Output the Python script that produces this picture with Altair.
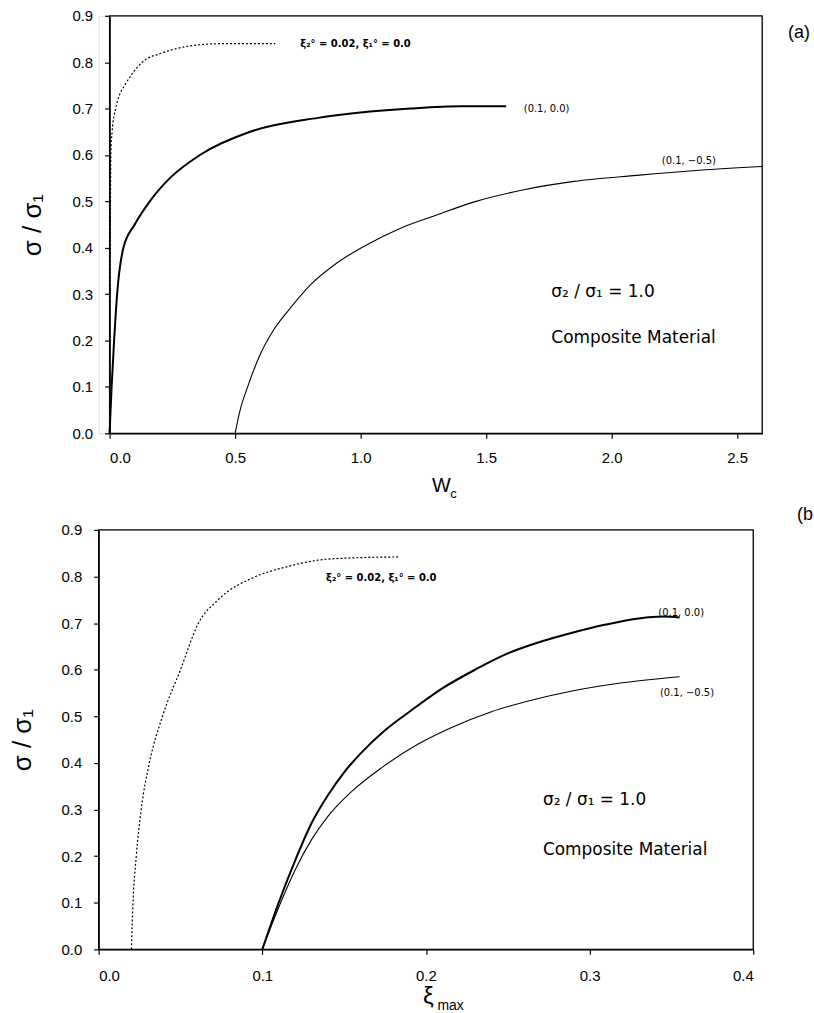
import altair as alt
import pandas as pd

# ---------------- Panel (a): sigma/sigma1 vs W_c ----------------
a_dot_x = [0.0, 0.001, 0.003, 0.005, 0.01, 0.024, 0.04, 0.06, 0.09, 0.13, 0.21, 0.32, 0.45, 0.55, 0.66]
a_dot_y = [0.0, 0.2, 0.45, 0.6, 0.65, 0.7, 0.73, 0.75, 0.775, 0.8, 0.82, 0.835, 0.84, 0.84, 0.84]

a_thick_x = [0.0, 0.008, 0.018, 0.03, 0.055, 0.1, 0.16, 0.24, 0.36, 0.56, 0.83, 1.2, 1.4, 1.58]
a_thick_y = [0.0, 0.1, 0.2, 0.3, 0.4, 0.45, 0.5, 0.55, 0.6, 0.65, 0.68, 0.7, 0.705, 0.705]

a_thin_x = [0.5, 0.52, 0.55, 0.6, 0.65, 0.72, 0.8, 0.9, 1.02, 1.15, 1.3, 1.46, 1.65, 1.85, 2.1, 2.35, 2.6]
a_thin_y = [0.0, 0.05, 0.1, 0.17, 0.22, 0.27, 0.32, 0.365, 0.405, 0.44, 0.47, 0.5, 0.525, 0.543, 0.556, 0.567, 0.575]

a_x_domain = [0.0, 2.6]
a_x_ticks = [0.0, 0.5, 1.0, 1.5, 2.0, 2.5]

# ---------------- Panel (b): sigma/sigma1 vs xi_max ----------------
b_dot_x = [0.02, 0.021, 0.023, 0.026, 0.031, 0.039, 0.05, 0.061, 0.073, 0.096, 0.114, 0.134, 0.155, 0.183]
b_dot_y = [0.0, 0.1, 0.2, 0.3, 0.4, 0.5, 0.6, 0.7, 0.75, 0.8, 0.82, 0.835, 0.84, 0.842]

b_thick_x = [0.1, 0.11, 0.12, 0.13, 0.14, 0.15, 0.16, 0.175, 0.19, 0.21, 0.23, 0.25, 0.27, 0.29, 0.31, 0.33, 0.345, 0.355]
b_thick_y = [0.0, 0.1, 0.19, 0.27, 0.33, 0.38, 0.42, 0.47, 0.51, 0.56, 0.6, 0.635, 0.66, 0.68, 0.697, 0.71, 0.714, 0.712]

b_thin_x = [0.1, 0.11, 0.12, 0.13, 0.14, 0.155, 0.173, 0.195, 0.215, 0.24, 0.265, 0.29, 0.32, 0.355]
b_thin_y = [0.0, 0.09, 0.17, 0.235, 0.285, 0.34, 0.39, 0.44, 0.475, 0.51, 0.535, 0.555, 0.572, 0.585]

b_x_domain = [0.0, 0.4]
b_x_ticks = [0.0, 0.1, 0.2, 0.3, 0.4]

y_domain = [0.0, 0.9]
y_ticks = [0.0, 0.1, 0.2, 0.3, 0.4, 0.5, 0.6, 0.7, 0.8, 0.9]

# annotation texts (label, x, y in data units)
a_labels = ["ξ₂° = 0.02,  ξ₁° = 0.0", "(0.1, 0.0)", "(0.1, −0.5)"]
a_label_x = [0.76, 1.65, 2.2]
a_label_y = [0.839, 0.70, 0.588]
b_labels = ["ξ₂° = 0.02,  ξ₁° = 0.0", "(0.1, 0.0)", "(0.1, −0.5)"]
b_label_x = [0.139, 0.342, 0.343]
b_label_y = [0.797, 0.722, 0.55]

note_lines = ["σ₂ / σ₁ = 1.0", "Composite Material"]
a_note_x = [1.76, 1.76]
a_note_y = [0.305, 0.206]
b_note_x = [0.2715, 0.2715]
b_note_y = [0.321, 0.214]

FONT = "Liberation Sans"
TFONT = "DejaVu Sans"
AX = dict(domainColor="black", tickColor="black", labelColor="black",
          domainWidth=1.3, tickWidth=1.2, grid=False)


def df_line(xs, ys):
    return pd.DataFrame({"x": xs, "y": ys, "i": list(range(len(xs)))})


def make_panel(curves, xdom, xticks, w, h, shift, labels, lx, ly, nx, ny, tag, tag_x, tag_y,
               main_title, sub_title, main_x, main_y, main_size, sub_x, sub_y, sub_size, xlab_pad):
    gw = w + shift
    xscale = alt.Scale(domain=xdom, nice=False, zero=False, range=[shift, gw])
    yscale = alt.Scale(domain=y_domain, nice=False)
    xaxis = alt.Axis(values=xticks, format=".1f", title=None,
                     tickSize=5, labelFontSize=15, labelPadding=xlab_pad, labelFont=FONT, **AX)
    yaxis = alt.Axis(values=y_ticks, format=".1f", title="σ / σ₁", offset=-shift,
                     tickSize=5, labelFontSize=15, labelPadding=12, labelFont=FONT,
                     titleFont=FONT, titleFontSize=26, titleFontWeight="normal",
                     titleColor="black", titlePadding=26, **AX)

    def X(field="x"):
        return alt.X(f"{field}:Q", scale=xscale, axis=xaxis)

    def Y(field="y"):
        return alt.Y(f"{field}:Q", scale=yscale, axis=yaxis)

    layers = []
    # frame around the data rectangle (domain extent through the scales)
    fdf = pd.DataFrame({"x0": [xdom[0]], "x1": [xdom[1]], "y0": [y_domain[0]], "y1": [y_domain[1]]})
    layers.append(
        alt.Chart(fdf).mark_rect(fillOpacity=0, stroke="black", strokeWidth=1.3).encode(
            x=X("x0"), x2="x1:Q", y=Y("y0"), y2="y1:Q")
    )
    for (xs, ys, sw, dash) in curves:
        mk = dict(color="black", strokeWidth=sw, interpolate="monotone")
        if dash:
            mk["strokeDash"] = dash
        layers.append(
            alt.Chart(df_line(xs, ys)).mark_line(**mk).encode(x=X(), y=Y(), order="i:Q")
        )

    ldf = pd.DataFrame({"x": lx, "y": ly, "t": labels})
    layers.append(
        alt.Chart(ldf.iloc[:1]).mark_text(align="left", baseline="middle", font=TFONT,
                                          fontSize=10, fontWeight="bold", color="black")
        .encode(x=X(), y=Y(), text="t:N")
    )
    layers.append(
        alt.Chart(ldf.iloc[1:]).mark_text(align="left", baseline="middle", font=TFONT,
                                          fontSize=10, color="black")
        .encode(x=X(), y=Y(), text="t:N")
    )
    ndf = pd.DataFrame({"x": nx, "y": ny, "t": note_lines})
    layers.append(
        alt.Chart(ndf).mark_text(align="left", baseline="middle", font=TFONT,
                                 fontSize=17, color="black")
        .encode(x=X(), y=Y(), text="t:N")
    )
    tdf = pd.DataFrame({"t": [tag]})
    layers.append(
        alt.Chart(tdf).mark_text(align="left", baseline="middle", font=FONT,
                                 fontSize=18, color="black")
        .encode(x=alt.value(tag_x), y=alt.value(tag_y), text="t:N")
    )
    # x-axis title with subscript
    mdf = pd.DataFrame({"t": [main_title]})
    layers.append(
        alt.Chart(mdf).mark_text(align="center", baseline="middle", font=FONT,
                                 fontSize=main_size, color="black")
        .encode(x=alt.value(main_x), y=alt.value(main_y), text="t:N")
    )
    sdf = pd.DataFrame({"t": [sub_title]})
    layers.append(
        alt.Chart(sdf).mark_text(align="left", baseline="middle", font=FONT,
                                 fontSize=sub_size, color="black")
        .encode(x=alt.value(sub_x), y=alt.value(sub_y), text="t:N")
    )
    return alt.layer(*layers).properties(width=gw, height=h)


H_TOP = 419
H_BOT = 421

top = make_panel(
    curves=[(a_dot_x, a_dot_y, 1.2, [2, 2]),
            (a_thick_x, a_thick_y, 2.0, None),
            (a_thin_x, a_thin_y, 1.1, None)],
    xdom=a_x_domain, xticks=a_x_ticks, w=655, h=H_TOP, shift=11,
    labels=a_labels, lx=a_label_x, ly=a_label_y, nx=a_note_x, ny=a_note_y,
    tag="(a)", tag_x=692, tag_y=17,
    main_title="W", sub_title="c", main_x=344, main_y=H_TOP + 53, main_size=20,
    sub_x=353, sub_y=H_TOP + 61, sub_size=13, xlab_pad=12,
)

bottom = make_panel(
    curves=[(b_dot_x, b_dot_y, 1.2, [2, 2]),
            (b_thick_x, b_thick_y, 2.0, None),
            (b_thin_x, b_thin_y, 1.1, None)],
    xdom=b_x_domain, xticks=b_x_ticks, w=657, h=H_BOT, shift=0,
    labels=b_labels, lx=b_label_x, ly=b_label_y, nx=b_note_x, ny=b_note_y,
    tag="(b", tag_x=701, tag_y=-15,
    main_title="ξ", sub_title="max", main_x=331, main_y=H_BOT + 48, main_size=24,
    sub_x=340, sub_y=H_BOT + 57, sub_size=14, xlab_pad=14,
)

chart = alt.vconcat(top, bottom, spacing=97, bounds="flush").properties(
    padding={"left": 8, "top": 6, "right": 0, "bottom": 0}
).configure_view(strokeWidth=0).configure(background="white")

chart.save("out.html", embed_options={"renderer": "svg", "actions": False})
